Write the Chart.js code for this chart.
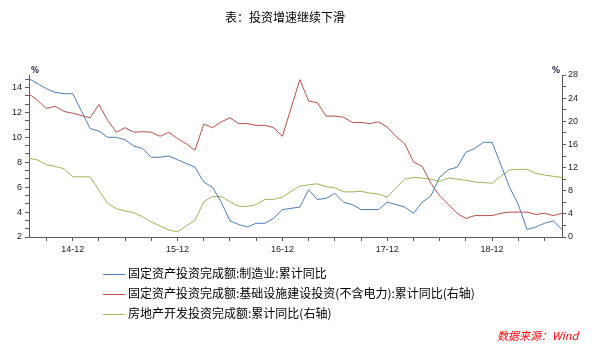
<!DOCTYPE html>
<html>
<head>
<meta charset="utf-8">
<script src="https://cdn.jsdelivr.net/npm/chart.js@4"></script>
<style>
  body { margin: 0; background: #fff; }
  #wrap { position: relative; width: 594px; height: 344px; font-family: "Noto Sans CJK SC", sans-serif; color: #000; }
  #grafico { position: absolute; left: 0; top: 0; }
  .titulo { position: absolute; left: 0; top: 9px; width: 570px; text-align: center; font-size: 12px; line-height: 16px; }
  .pct { position: absolute; top: 66px; font: bold 8px "DejaVu Sans", sans-serif; color: #1a1a4a; }
  .fila { position: absolute; left: 103px; height: 16px; line-height: 16px; font-size: 12px; white-space: nowrap; }
  .fila i { display: inline-block; width: 22px; height: 0; border-top: 1px solid; vertical-align: middle; margin-right: 3px; }
  .fuente { position: absolute; left: 497px; top: 327px; font-size: 11px; line-height: 16px; font-style: italic; color: #f00; }
</style>
</head>
<body>
<div id="wrap">
  <canvas id="grafico" width="594" height="344"></canvas>
  <div class="titulo">表：投资增速继续下滑</div>
  <div class="pct" style="left:31px">%</div>
  <div class="pct" style="left:552px">%</div>
  <div id="leyenda"></div>
  <div class="fuente">数据来源：Wind</div>
</div>
<script>
const meses = [
  '14-07', '14-08', '14-09', '14-10', '14-11', '14-12',
  '15-01', '15-02', '15-03', '15-04', '15-05', '15-06', '15-07', '15-08', '15-09', '15-10', '15-11', '15-12',
  '16-01', '16-02', '16-03', '16-04', '16-05', '16-06', '16-07', '16-08', '16-09', '16-10', '16-11', '16-12',
  '17-01', '17-02', '17-03', '17-04', '17-05', '17-06', '17-07', '17-08', '17-09', '17-10', '17-11', '17-12',
  '18-01', '18-02', '18-03', '18-04', '18-05', '18-06', '18-07', '18-08', '18-09', '18-10', '18-11', '18-12',
  '19-01', '19-02', '19-03', '19-04', '19-05', '19-06', '19-07', '19-08'
];

// 制造业 (左轴)
const manufactura = [
  14.7, 14.3, 13.9, 13.6, 13.5, 13.5,
  12.1, 10.7, 10.5, 10.0, 10.0, 9.8, 9.3, 9.1, 8.4, 8.4, 8.5, 8.2,
  7.9, 7.6, 6.4, 6.0, 4.8, 3.3, 3.0, 2.8, 3.1, 3.1, 3.5, 4.2,
  4.3, 4.4, 5.8, 5.0, 5.1, 5.5, 4.8, 4.6, 4.2, 4.2, 4.2, 4.8,
  4.6, 4.4, 3.9, 4.8, 5.3, 6.8, 7.4, 7.6, 8.8, 9.1, 9.6, 9.6,
  7.8, 6.0, 4.6, 2.6, 2.8, 3.1, 3.3, 2.6
];

// 基础设施 (右轴)
const infraestructura = [
  24.7, 23.6, 22.2, 22.6, 21.7, 21.4,
  21.0, 20.6, 22.9, 20.2, 18.1, 18.9, 18.1, 18.2, 18.1, 17.4, 18.1, 17.0,
  16.1, 15.0, 19.5, 18.9, 19.9, 20.6, 19.6, 19.6, 19.3, 19.3, 18.9, 17.4,
  22.3, 27.2, 23.5, 23.2, 20.9, 20.9, 20.7, 19.8, 19.8, 19.6, 19.9, 19.0,
  17.4, 16.1, 13.0, 12.2, 9.3, 7.1, 5.6, 4.1, 3.2, 3.7, 3.7, 3.7,
  4.1, 4.3, 4.3, 4.3, 3.9, 4.1, 3.7, 4.1
];

// 房地产 (右轴)
const inmobiliario = [
  13.6, 13.3, 12.5, 12.2, 11.8, 10.4,
  10.4, 10.4, 8.1, 5.8, 4.9, 4.5, 4.2, 3.5, 2.6, 1.9, 1.2, 0.9,
  1.9, 2.9, 6.1, 7.0, 7.0, 6.1, 5.3, 5.3, 5.6, 6.5, 6.5, 6.9,
  7.9, 8.8, 9.0, 9.2, 8.7, 8.5, 7.8, 7.8, 7.9, 7.6, 7.4, 6.9,
  8.5, 10.0, 10.3, 10.2, 10.0, 9.6, 10.2, 10.0, 9.8, 9.5, 9.4, 9.3,
  10.5, 11.6, 11.7, 11.7, 11.0, 10.7, 10.5, 10.3
];

const nombres = [
  '固定资产投资完成额:制造业:累计同比',
  '固定资产投资完成额:基础设施建设投资(不含电力):累计同比(右轴)',
  '房地产开发投资完成额:累计同比(右轴)'
];
const colores = ['#4a7ebb', '#be4b48', '#98b954'];

const ejeColor = '#5a5a5a';
const fuenteEje = { family: 'Liberation Sans', size: 9 };

// leyenda en HTML
const filasY = [265, 285, 305];
document.getElementById('leyenda').innerHTML = nombres.map((n, i) =>
  `<div class="fila" style="top:${filasY[i]}px"><i style="border-color:${colores[i]}"></i>${n}</div>`
).join('');

const ctx = document.getElementById('grafico').getContext('2d');
new Chart(ctx, {
  type: 'line',
  data: {
    labels: meses,
    datasets: [
      { label: nombres[0], data: manufactura, borderColor: colores[0], yAxisID: 'y' },
      { label: nombres[1], data: infraestructura, borderColor: colores[1], yAxisID: 'y2' },
      { label: nombres[2], data: inmobiliario, borderColor: colores[2], yAxisID: 'y2' }
    ]
  },
  options: {
    responsive: false,
    animation: false,
    layout: { padding: { top: 75, left: 0, right: 0, bottom: 0 } },
    elements: {
      line: { borderWidth: 1, tension: 0 },
      point: { radius: 0 }
    },
    plugins: { legend: { display: false }, tooltip: { enabled: false } },
    scales: {
      x: {
        offset: false,
        afterFit: (s) => { s.height = 107; },
        border: { display: true, color: ejeColor },
        grid: {
          drawOnChartArea: false,
          tickLength: 4,
          color: (c) => {
            const m = meses[c.index];
            return m && ['03', '06', '09', '12'].includes(m.slice(3)) ? ejeColor : 'rgba(0,0,0,0)';
          }
        },
        ticks: {
          autoSkip: false,
          maxRotation: 0,
          padding: 3,
          color: '#222',
          font: fuenteEje,
          callback: (v, i) => meses[i].endsWith('-12') ? meses[i] : ''
        }
      },
      y: {
        position: 'left',
        min: 2,
        max: 15,
        afterFit: (s) => { s.width = 29; },
        afterBuildTicks: (s) => {
          const t = [];
          for (let k = 0; k <= 19; k++) t.push({ value: 2 + k * 2 / 3 });
          s.ticks = t;
        },
        border: { display: true, color: ejeColor },
        grid: { drawOnChartArea: false, tickLength: 4, color: ejeColor },
        ticks: {
          autoSkip: false,
          padding: 3,
          color: '#222',
          font: fuenteEje,
          callback: (v) => {
            const r = Math.round(v);
            return Math.abs(v - r) < 0.01 && r % 2 === 0 ? String(r) : '';
          }
        }
      },
      y2: {
        position: 'right',
        min: 0,
        max: 28,
        afterFit: (s) => { s.width = 32; },
        border: { display: true, color: ejeColor },
        grid: { drawOnChartArea: false, tickLength: 4, color: ejeColor },
        ticks: {
          autoSkip: false,
          stepSize: 2,
          padding: 2,
          color: '#222',
          font: fuenteEje,
          callback: (v) => v % 4 === 0 ? String(v) : ''
        }
      }
    }
  }
});
</script>
</body>
</html>
